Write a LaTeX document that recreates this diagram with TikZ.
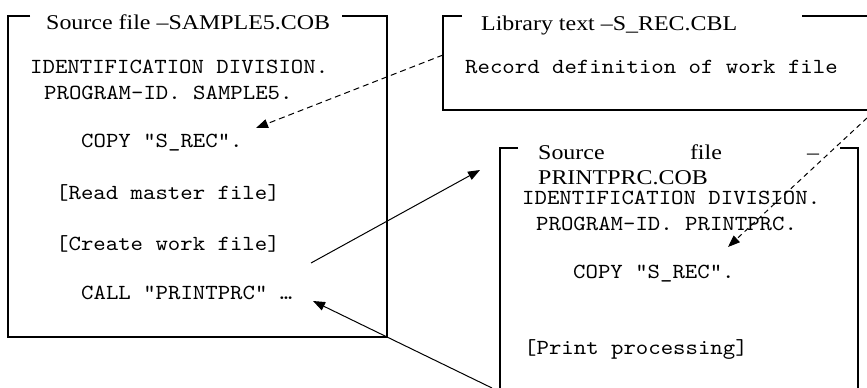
\documentclass[tikz,border=0pt]{standalone}
\usepackage{fontspec}
\newfontfamily\titlefont[FakeStretch=1.14]{Liberation Serif}
\newfontfamily\codefont[FakeStretch=1.1]{lmmono10-regular.otf}
\usetikzlibrary{arrows.meta}

\begin{document}
\begin{tikzpicture}[x=1pt,y=-1pt]
   \tikzstyle{every node}=[inner sep=0pt, anchor=base west]
   \tikzstyle{code}=[font=\codefont\fontsize{21.5}{24}\selectfont]
   \tikzstyle{title}=[font=\titlefont\fontsize{21}{26}\selectfont]
   \tikzstyle{frame}=[line width=1.4pt]
   \tikzstyle{link}=[line width=1pt, -{Triangle[length=12pt,width=9pt]}]
   \tikzstyle{copylink}=[link, dash pattern=on 6pt off 4pt]

\useasboundingbox (0,0) rectangle (867,388);

% frames
\draw[frame] (30,16) -- (8,16) -- (8,337) -- (387,337) -- (387,16) -- (342,16);
\draw[frame] (462,16) -- (443,16) -- (443,110) -- (867,110);
\draw[frame] (802,16) -- (867,16);
\draw[frame] (518,148) -- (500,148) -- (500,388);
\draw[frame] (840,148) -- (858,148) -- (858,388);

% titles
\node[title] (mainTitle) at (46,29) {Source file –SAMPLE5.COB};
\node[title] (libTitle) at (481,30) {Library text –S\_REC.CBL};
\node[title, text width=281pt] (subTitle) at (538,159) {Source\hfill file\hfill –};
\node[title] (subName) at (538,184) {PRINTPRC.COB};

% SAMPLE5
\node[code] (mainId) at (30,73) {IDENTIFICATION DIVISION.};
\node[code] (mainProg) at (44,99) {PROGRAM-ID. SAMPLE5.};
\node[code] (mainCopy) at (81,147) {COPY "S\_REC".};
\node[code] (mainRead) at (56,199) {[Read master file]};
\node[code] (mainWork) at (56,250) {[Create work file]};
\node[code] (mainCall) at (81,299) {CALL "PRINTPRC" …};

% S_REC
\node[code] (libRec) at (465,73) {Record definition of work file};

% PRINTPRC
\node[code] (subId) at (522,204) {IDENTIFICATION DIVISION.};
\node[code] (subProg) at (536,230) {PROGRAM-ID. PRINTPRC.};
\node[code] (subCopy) at (573,278) {COPY "S\_REC".};
\node[code] (subPrint) at (524,354) {[Print processing]};

% arrow ends
\coordinate (libLeft) at (443,55);
\coordinate (mainCopyIn) at (256,128);
\coordinate (libRight) at (867,118);
\coordinate (subCopyIn) at (728,247);
\coordinate (mainCallOut) at (311,263);
\coordinate (subIn) at (480,170);
\coordinate (subOut) at (492,388);
\coordinate (mainCallIn) at (313,301);

\draw[copylink] (libLeft) -- (mainCopyIn);
\draw[copylink, dash pattern=on 5pt off 4pt] (libRight) -- (subCopyIn);
\draw[link] (mainCallOut) -- (subIn);
\draw[link] (subOut) -- (mainCallIn);

\end{tikzpicture}
\end{document}
